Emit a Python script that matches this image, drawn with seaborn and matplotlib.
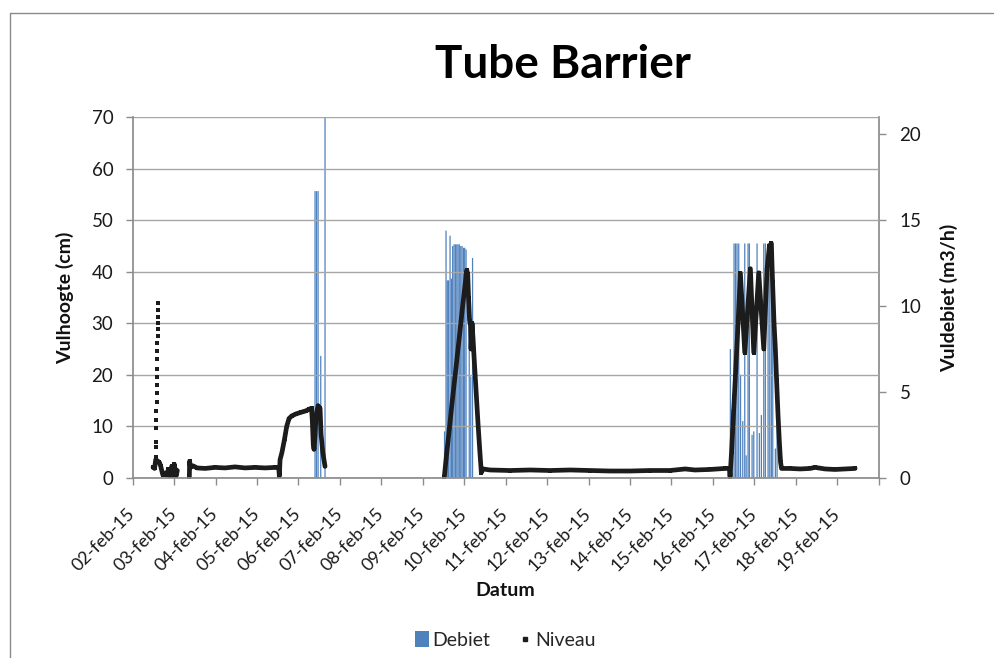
import numpy as np
import pandas as pd
import matplotlib
matplotlib.use("Agg")
import matplotlib.pyplot as plt
from matplotlib.lines import Line2D
from matplotlib.patches import Patch
import seaborn as sns

# ---------------- data (days since 02-feb-15 00:00) ----------------
niveau_t = [0.490, 0.526, 0.555, 0.642, 0.676, 0.724, 0.779, 0.820, 0.859, 0.900, 0.941, 0.980, 1.004, 1.045, 1.076,
            1.366, 1.373, 1.395, 1.455, 1.552, 1.745, 1.986, 2.227, 2.469, 2.710, 2.951, 3.192, 3.434, 3.523, 3.538,
            3.555, 3.603, 3.663, 3.716, 3.772, 3.837, 3.941, 4.061, 4.182, 4.254, 4.315, 4.334, 4.356, 4.375, 4.399,
            4.423, 4.472, 4.520, 4.544, 4.585, 4.640,
            7.519, 7.560, 7.640, 7.705, 7.802, 7.963, 8.060, 8.084, 8.103, 8.128, 8.152, 8.164, 8.188, 8.212, 8.236,
            8.284, 8.332, 8.381, 8.412, 8.453, 8.622, 9.105, 9.587, 10.070, 10.553, 11.035, 11.518, 12.001, 12.483,
            12.966, 13.328, 13.569, 13.931, 14.293, 14.397, 14.414, 14.450, 14.535, 14.607, 14.663, 14.769, 14.904,
            14.986, 15.106, 15.227, 15.307, 15.363, 15.410, 15.439, 15.475, 15.507, 15.536, 15.572, 15.603, 15.632,
            15.656, 15.862, 16.103, 16.344, 16.465, 16.707, 16.948, 17.189, 17.431]
niveau_v = [2.0, 1.8, 3.5, 3.0, 2.2, 0.6, 0.9, 0.5, 1.6, 0.3, 2.2, 0.3, 2.6, 0.3, 1.4,
            0.2, 3.2, 2.0, 2.3, 1.9, 1.8, 2.0, 1.9, 2.1, 1.9, 2.0, 1.9, 2.0, 1.9, 0.3,
            3.5, 5.0, 7.5, 10.0, 11.5, 12.0, 12.4, 12.7, 13.0, 13.3, 13.5, 11.0, 6.5, 5.5, 8.0,
            12.0, 14.0, 13.5, 8.5, 5.0, 2.2,
            0.2, 3.5, 9.5, 14.5, 21.5, 33.5, 40.3, 39.5, 35.0, 30.5, 29.5, 25.0, 30.0, 27.0, 23.5,
            17.0, 10.5, 4.5, 1.0, 1.7, 1.5, 1.4, 1.5, 1.4, 1.5, 1.4, 1.3, 1.3, 1.4,
            1.4, 1.7, 1.5, 1.6, 1.8, 1.8, 0.2, 5.0, 18.5, 30.0, 39.7, 24.3, 40.6,
            24.3, 39.8, 25.0, 40.6, 45.0, 45.5, 38.0, 30.0, 25.0, 19.0, 12.0, 7.0, 3.0,
            1.8, 1.8, 1.7, 1.8, 2.0, 1.7, 1.6, 1.7, 1.8]
niveau_seg = [0] * 15 + [1] * 36 + [2] * 64

spike_t = [0.556, 0.560, 0.563, 0.566, 0.569, 0.572, 0.575, 0.578, 0.581, 0.584,
           0.587, 0.590, 0.593, 0.596, 0.599, 0.602, 0.605, 0.608, 0.611, 0.614]
spike_v = [4.1, 6.0, 7.0, 9.6, 11.3, 13.0, 14.7, 16.4, 18.0, 19.6,
           21.2, 23.0, 24.7, 26.1, 27.5, 28.8, 30.1, 31.3, 32.6, 33.9]

debiet_t = [4.399, 4.435, 4.472, 4.537, 4.640,
            7.524, 7.560, 7.590, 7.620, 7.657, 7.690, 7.720, 7.753, 7.785, 7.820, 7.850, 7.880, 7.915,
            7.946, 7.980, 8.010, 8.043, 8.120, 8.157, 8.200,
            14.421, 14.462, 14.510, 14.546, 14.582, 14.623, 14.667, 14.720, 14.768, 14.802, 14.848, 14.880,
            14.945, 14.986, 15.065, 15.121, 15.169, 15.227, 15.265, 15.331, 15.372, 15.410, 15.444, 15.507, 15.548]
debiet_v = [16.7, 16.7, 16.7, 7.1, 21.0,
            2.7, 14.4, 11.5, 11.5, 14.1, 11.6, 13.5, 13.6, 13.6, 13.6, 13.6, 13.6, 13.5,
            13.5, 13.4, 13.4, 13.3, 8.9, 5.9, 12.8,
            7.5, 4.0, 13.65, 13.65, 13.65, 13.65, 6.0, 3.3, 13.65, 1.3, 13.65, 13.65,
            2.5, 2.7, 13.65, 2.6, 3.65, 13.65, 13.65, 13.65, 13.65, 13.65, 13.65, 1.7, 6.9]

x_tick_labels = ['02-feb-15', '03-feb-15', '04-feb-15', '05-feb-15', '06-feb-15', '07-feb-15',
                 '08-feb-15', '09-feb-15', '10-feb-15', '11-feb-15', '12-feb-15', '13-feb-15',
                 '14-feb-15', '15-feb-15', '16-feb-15', '17-feb-15', '18-feb-15', '19-feb-15', '']
left_ticks = [0, 10, 20, 30, 40, 50, 60, 70]
right_ticks = [0, 5, 10, 15, 20]

# ---------------- style ----------------
sns.set_theme(style="white")
plt.rcParams['font.family'] = ['Lato', 'DejaVu Sans']

BLUE = '#4F81BD'
DOT = '#1c1c1c'
GRID = '#a6a6a6'
AX = '#8c8c8c'
TXT = '#1a1a1a'

fig = plt.figure(figsize=(9.95, 6.58), dpi=100)
ax = fig.add_axes([0.1334, 0.2740, 0.7497, 0.5477])
ax2 = ax.twinx()

niv = pd.DataFrame({'t': niveau_t, 'v': niveau_v, 'seg': niveau_seg})
spk = pd.DataFrame({'t': spike_t, 'v': spike_v})

ax2.bar(debiet_t, debiet_v, width=0.03, color=BLUE, linewidth=0, align='center', snap=False)

sns.lineplot(data=niv, x='t', y='v', units='seg', estimator=None, sort=False,
             color=DOT, lw=3.4, ax=ax, legend=False)
sns.scatterplot(data=niv, x='t', y='v', marker='s', s=12, color=DOT, linewidth=0, ax=ax, legend=False)
sns.scatterplot(data=spk, x='t', y='v', marker='s', s=11, color=DOT, linewidth=0, ax=ax, legend=False)

ax.set_zorder(ax2.get_zorder() + 1)
ax.patch.set_visible(False)

ax.set_xlim(0, 18)
ax.set_ylim(0, 70)
ax2.set_ylim(0, 21)
ax.set_xticks(range(len(x_tick_labels)))
ax.set_xticklabels(x_tick_labels, rotation=45, ha='right', va='center', rotation_mode='anchor', fontsize=13)
ax.set_yticks(left_ticks)
ax.set_yticklabels([str(v) for v in left_ticks], fontsize=13.5)
ax2.set_yticks(right_ticks)
ax2.set_yticklabels([str(v) for v in right_ticks], fontsize=13.5)

ax.grid(axis='y', color=GRID, lw=1)
ax.grid(axis='x', visible=False)
for a in (ax, ax2):
    for s in a.spines.values():
        s.set_visible(False)
ax.spines['left'].set_visible(True)
ax.spines['left'].set_color(AX)
ax.spines['bottom'].set_visible(True)
ax.spines['bottom'].set_color(AX)
ax2.spines['right'].set_visible(True)
ax2.spines['right'].set_color(AX)

ax.tick_params(axis='y', which='major', left=True, length=5, width=1, color=AX, pad=9, labelcolor=TXT)
ax.tick_params(axis='x', which='major', bottom=True, length=5, width=1, color=AX, pad=19, labelcolor=TXT)
ax2.tick_params(axis='y', which='major', right=True, length=5, width=1, color=AX, pad=10, labelcolor=TXT)

ax.set_xlabel('')
ax.set_ylabel('Vulhoogte (cm)', fontsize=14, fontweight='bold', color='#111111')
ax.yaxis.set_label_coords(-0.079, 0.5)
ax2.set_ylabel('Vuldebiet (m3/h)', fontsize=14, fontweight='bold', color='#111111')
ax2.yaxis.set_label_coords(1.082, 0.5)

fig.text(0.508, 1 - 591 / 658, 'Datum', ha='center', va='center', fontsize=14, fontweight='bold', color='#111111')
fig.text(0.566, 1 - 65 / 658, 'Tube Barrier', ha='center', va='center', fontsize=33, fontweight='bold', color='black')

handles = [Patch(facecolor=BLUE, edgecolor='none', label='Debiet'),
           Line2D([], [], marker='s', markersize=3, color=DOT, lw=0, label='Niveau')]
fig.legend(handles=handles, loc='center', bbox_to_anchor=(0.508, 1 - 640 / 658), ncol=2, frameon=False,
           fontsize=14, handlelength=0.7, handleheight=0.9, handletextpad=0.2, columnspacing=1.4)

# outer chart frame
fig.add_artist(Line2D([10 / 995, 10 / 995], [0, 1 - 13 / 658], transform=fig.transFigure, color='#8a8a8a', lw=1))
fig.add_artist(Line2D([10 / 995, 1], [1 - 13 / 658, 1 - 13 / 658], transform=fig.transFigure, color='#8a8a8a', lw=1))

fig.savefig('out.png', dpi=100)
